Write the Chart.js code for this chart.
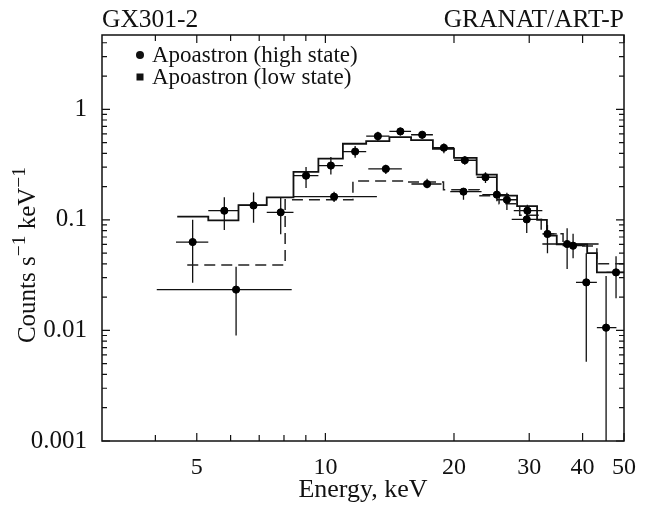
<!DOCTYPE html>
<html>
<head>
<meta charset="utf-8">
<script src="https://cdn.jsdelivr.net/npm/chart.js@4.4.1/dist/chart.umd.min.js"></script>
<style>
  body { margin: 0; background: #fff; }
  #wrap { width: 646px; height: 506px; }
</style>
</head>
<body>
<div id="wrap"><canvas id="chart" width="646" height="506"></canvas></div>
<script>
// high state points (keV, counts/s/keV) with error ranges
const highE   = [4.89, 5.8, 6.79, 7.86, 9.01, 10.3, 11.74, 13.27, 14.98, 16.85, 18.94, 21.2, 23.7, 26.6, 29.7, 33.1, 38.0, 40.8, 45.4];
const highV   = [0.063, 0.121, 0.135, 0.117, 0.251, 0.31, 0.415, 0.572, 0.631, 0.589, 0.449, 0.346, 0.243, 0.152, 0.121, 0.0746, 0.0584, 0.0272, 0.0106];
const highELo = [4.47, 5.32, 6.26, 7.29, 8.42, 9.63, 10.99, 12.46, 14.12, 15.87, 17.85, 20.0, 22.6, 25.2, 27.6, 32.2, 35.9, 38.6, 43.2];
const highEHi = [5.32, 6.26, 7.29, 8.42, 9.63, 10.99, 12.46, 14.12, 15.87, 17.85, 20.0, 22.6, 25.2, 28.1, 32.2, 34.8, 40.5, 43.2, 48.0];
const highVLo = [0.027, 0.081, 0.094, 0.074, 0.194, 0.257, 0.364, 0.516, 0.58, 0.54, 0.40, 0.316, 0.216, 0.123, 0.097, 0.05, 0.045, 0.0052, 0.001];
const highVHi = [0.1, 0.16, 0.177, 0.158, 0.30, 0.37, 0.465, 0.627, 0.68, 0.63, 0.49, 0.376, 0.27, 0.176, 0.137, 0.09, 0.075, 0.05, 0.031];

// low state points
const lowE   = [6.18, 10.48, 13.85, 17.3, 21.05, 25.2, 29.6, 36.8, 47.9];
const lowV   = [0.0234, 0.162, 0.289, 0.211, 0.18, 0.169, 0.101, 0.0605, 0.0335];
const lowELo = [4.03, 8.42, 12.6, 15.9, 19.6, 23.3, 27.3, 32.2, 45.5];
const lowEHi = [8.34, 13.2, 15.1, 18.7, 23.2, 26.9, 32.2, 43.6, 50];
const lowVLo = [0.009, 0.145, 0.26, 0.193, 0.152, 0.147, 0.076, 0.036, 0.0195];
const lowVHi = [0.0377, 0.18, 0.316, 0.235, 0.194, 0.187, 0.12, 0.084, 0.047];

// model histograms: bin edges and bin values
const highModelEdges  = [4.5, 5.32, 6.26, 7.29, 8.42, 9.63, 10.99, 12.46, 14.12, 15.87, 17.85, 20.0, 22.6, 25.2, 28.1, 31.3, 33.0, 34.8, 41.0, 43.2, 50];
const highModelValues = [0.107, 0.099, 0.136, 0.16, 0.272, 0.358, 0.488, 0.516, 0.56, 0.527, 0.44, 0.364, 0.257, 0.166, 0.133, 0.1, 0.072, 0.06, 0.05, 0.0335];
const lowModelEdges   = [4.75, 8.05, 11.6, 15.3, 18.9, 22.9, 25.5, 28.5, 32.0, 36.0, 43.2, 50];
const lowModelValues  = [0.039, 0.152, 0.225, 0.22, 0.187, 0.165, 0.14, 0.11, 0.075, 0.058, 0.04];

const xTicks  = [4, 5, 6, 7, 8, 9, 10, 20, 30, 40, 50];
const xLabels = [5, 10, 20, 30, 40, 50];
const yLabels = [0.001, 0.01, 0.1, 1];

const serif = "'Liberation Serif', 'Times New Roman', serif";

function steps(edges, values) {
    const pts = values.map((v, i) => ({x: edges[i], y: v}));
    pts.push({x: edges[edges.length - 1], y: values[values.length - 1]});
    return pts;
}

function yTickValues() {
    const out = [];
    for (let p = -3; p <= 0; p++) {
        for (let m = 1; m <= 9; m++) {
            const v = m * Math.pow(10, p);
            if (v <= 4.7) out.push(+v.toPrecision(3));
        }
    }
    return out;
}

const errorBars = {
    id: 'errorBars',
    beforeDatasetsDraw(chart) {
        const ctx = chart.ctx, x = chart.scales.x, y = chart.scales.y, a = chart.chartArea;
        ctx.save();
        ctx.beginPath();
        ctx.rect(a.left, a.top, a.right - a.left, a.bottom - a.top);
        ctx.clip();
        ctx.strokeStyle = '#111';
        ctx.lineWidth = 1.3;
        const sets = [[highE, highV, highELo, highEHi, highVLo, highVHi], [lowE, lowV, lowELo, lowEHi, lowVLo, lowVHi]];
        sets.forEach(s => {
            for (let i = 0; i < s[0].length; i++) {
                const px = x.getPixelForValue(s[0][i]);
                const py = y.getPixelForValue(s[1][i]);
                ctx.beginPath();
                ctx.moveTo(x.getPixelForValue(s[2][i]), py);
                ctx.lineTo(x.getPixelForValue(s[3][i]), py);
                ctx.moveTo(px, y.getPixelForValue(s[4][i]));
                ctx.lineTo(px, y.getPixelForValue(s[5][i]));
                ctx.stroke();
            }
        });
        ctx.restore();
    }
};

function supText(ctx, parts, x, y, size) {
    // parts: [text, isSuperscript]
    let total = 0;
    parts.forEach(p => {
        ctx.font = (p[1] ? size * 0.78 : size) + 'px ' + serif;
        total += ctx.measureText(p[0]).width;
    });
    let cx = x - total / 2;
    parts.forEach(p => {
        ctx.font = (p[1] ? size * 0.78 : size) + 'px ' + serif;
        ctx.fillText(p[0], cx, p[1] ? y - size * 0.4 : y);
        cx += ctx.measureText(p[0]).width;
    });
}

const frame = {
    id: 'frame',
    afterDraw(chart) {
        const ctx = chart.ctx, a = chart.chartArea, x = chart.scales.x, y = chart.scales.y;
        ctx.save();
        ctx.strokeStyle = '#111';
        ctx.lineWidth = 1.5;
        ctx.strokeRect(a.left, a.top, a.right - a.left, a.bottom - a.top);

        // inward ticks on all four sides
        ctx.lineWidth = 1.2;
        ctx.beginPath();
        xTicks.forEach(v => {
            const px = x.getPixelForValue(v);
            const len = xLabels.includes(v) ? 8 : 6;
            ctx.moveTo(px, a.bottom); ctx.lineTo(px, a.bottom - len);
            ctx.moveTo(px, a.top); ctx.lineTo(px, a.top + len);
        });
        yTickValues().forEach(v => {
            const py = y.getPixelForValue(v);
            const len = yLabels.includes(v) ? 8 : 5;
            ctx.moveTo(a.left, py); ctx.lineTo(a.left + len, py);
            ctx.moveTo(a.right, py); ctx.lineTo(a.right - len, py);
        });
        ctx.stroke();

        // header texts
        ctx.fillStyle = '#111';
        ctx.font = '25.5px ' + serif;
        ctx.textBaseline = 'alphabetic';
        ctx.textAlign = 'left';
        ctx.fillText('GX301-2', a.left, 27);
        ctx.textAlign = 'right';
        ctx.fillText('GRANAT/ART-P', a.right, 27);

        // legend inside the plot
        ctx.textAlign = 'left';
        ctx.font = '23px ' + serif;
        const labels = chart.data.datasets.slice(0, 2).map(d => d.label);
        ctx.beginPath();
        ctx.arc(140, 55, 4, 0, Math.PI * 2);
        ctx.fill();
        ctx.fillRect(136.5, 73.5, 7, 7);
        ctx.fillText(labels[0], 152, 62);
        ctx.fillText(labels[1], 152, 84);

        // y axis title with superscripts
        ctx.translate(35, 255);
        ctx.rotate(-Math.PI / 2);
        ctx.textAlign = 'left';
        supText(ctx, [['Counts s', false], ['\u22121', true], [' keV', false], ['\u22121', true]], 0, 0, 25);
        ctx.restore();
    }
};

new Chart('chart', {
    type: 'scatter',
    data: {
        datasets: [{
            label: 'Apoastron (high state)',
            data: highE.map((e, i) => ({x: e, y: highV[i]})),
            pointRadius: 3.6,
            pointBackgroundColor: '#000',
            pointBorderColor: '#000',
            showLine: false
        }, {
            label: 'Apoastron (low state)',
            data: lowE.map((e, i) => ({x: e, y: lowV[i]})),
            pointRadius: 3.6,
            pointBackgroundColor: '#000',
            pointBorderColor: '#000',
            showLine: false
        }, {
            label: 'high model',
            data: steps(highModelEdges, highModelValues),
            showLine: true,
            stepped: 'before',
            borderColor: '#111',
            borderWidth: 1.8,
            pointRadius: 0
        }, {
            label: 'low model',
            data: steps(lowModelEdges, lowModelValues),
            showLine: true,
            stepped: 'before',
            borderColor: '#222',
            borderWidth: 1.5,
            borderDash: [11, 6],
            pointRadius: 0
        }]
    },
    options: {
        responsive: false,
        animation: false,
        layout: {padding: {top: 35, right: 22, left: 0, bottom: 0}},
        plugins: {legend: {display: false}, tooltip: {enabled: false}},
        scales: {
            x: {
                type: 'logarithmic',
                min: 3,
                max: 50,
                grid: {display: false},
                border: {display: false},
                afterBuildTicks: s => { s.ticks = xTicks.map(v => ({value: v})); },
                afterFit: s => { s.height = 65; },
                ticks: {
                    autoSkip: false,
                    maxRotation: 0,
                    padding: 4,
                    color: '#111',
                    font: {family: serif, size: 24},
                    callback: v => xLabels.includes(v) ? String(v) : ''
                },
                title: {
                    display: true,
                    text: 'Energy, keV',
                    color: '#111',
                    font: {family: serif, size: 26},
                    padding: {top: 0, bottom: 0}
                }
            },
            y: {
                type: 'logarithmic',
                min: 0.001,
                max: 4.7,
                grid: {display: false},
                border: {display: false},
                afterBuildTicks: s => { s.ticks = yTickValues().map(v => ({value: v})); },
                afterFit: s => { s.width = 102; },
                ticks: {
                    autoSkip: false,
                    padding: 7,
                    color: '#111',
                    font: {family: serif, size: 25},
                    callback: v => yLabels.includes(v) ? String(v) : ''
                }
            }
        }
    },
    plugins: [errorBars, frame]
});
</script>
</body>
</html>
